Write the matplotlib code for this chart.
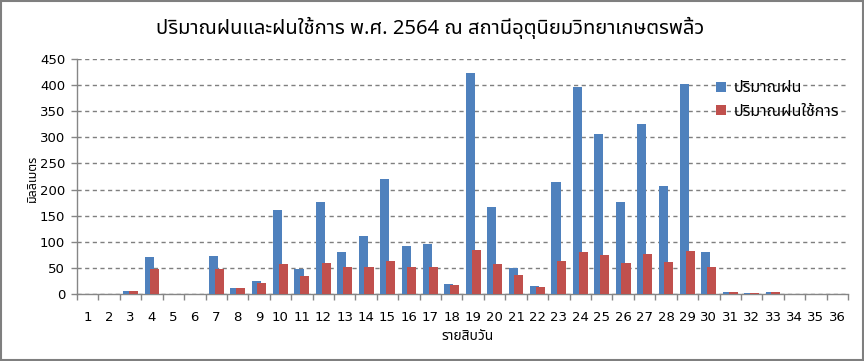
import matplotlib
matplotlib.use("Agg")
import matplotlib.pyplot as plt
import numpy as np
from matplotlib import font_manager as fm
from matplotlib.ft2font import FT2Font
from matplotlib.patches import Rectangle

# ---------------- data ----------------
categories = [str(i) for i in range(1, 37)]
rain_total = [0, 0, 6, 70, 0, 0, 72, 12, 24, 160, 47, 177, 81, 112, 220, 91, 95, 20,
              424, 166, 49, 16, 214, 397, 306, 176, 326, 206, 403, 81, 4.5, 2.5, 4.5, 0, 0, 0]
rain_effective = [0, 0, 6, 47, 0, 0, 47, 12, 22, 58, 35, 60, 51, 52, 64, 51, 52, 18,
                  85, 58, 37, 14, 64, 81, 74, 60, 76, 62, 83, 51, 4.5, 2, 4.5, 0, 0, 0]
series_names = ["ปริมาณฝน", "ปริมาณฝนใช้การ"]
title = "ปริมาณฝนและฝนใช้การ พ.ศ. 2564 ณ สถานีอุตุนิยมวิทยาเกษตรพลิ้ว"
xlabel = "รายสิบวัน"
ylabel = "มิลลิเมตร"
yticks = [0, 50, 100, 150, 200, 250, 300, 350, 400, 450]

# ---------------- font selection ----------------
preferred = ["Tahoma", "Noto Sans Thai", "Noto Sans Thai UI", "Loma", "Garuda",
             "Sarabun", "Kanit", "Prompt", "IBM Plex Sans Thai", "Bai Jamjuree"]
thai_fonts = {}
for f in fm.fontManager.ttflist:
    try:
        cm = FT2Font(f.fname).get_charmap()
        if 0x0E1B in cm and 0x0E23 in cm:
            thai_fonts.setdefault(f.name, True)
    except Exception:
        pass
thai = None
for p in preferred:
    if p in thai_fonts:
        thai = p
        break
if thai is None and thai_fonts:
    thai = sorted(thai_fonts)[0]
fam = ([thai] if thai else []) + ["DejaVu Sans"]
plt.rcParams["font.family"] = fam

# ---------------- figure ----------------
W, H = 864, 361
fig = plt.figure(figsize=(W / 100, H / 100), dpi=100)
ax = fig.add_axes([77 / W, 1 - 294 / H, (848 - 77) / W, (294 - 59) / H])

x = np.arange(len(categories))
bw = 0.425
off = 0.135
c_blue = "#4F81BD"
c_red = "#C0504D"
ax.bar(x - off, rain_total, width=bw, color=c_blue, label=series_names[0], zorder=3)
ax.bar(x + off, rain_effective, width=bw, color=c_red, label=series_names[1], zorder=4)

ax.set_xlim(-0.5, len(categories) - 0.5)
ax.set_ylim(0, 450)
ax.set_yticks(yticks)
ax.set_yticklabels([str(v) for v in yticks], fontsize=9.5, family=["DejaVu Sans"])
ax.yaxis.grid(True, linestyle=(0, (3, 2.5)), color="#7F7F7F", linewidth=1.0, zorder=0)
ax.set_axisbelow(True)

ax.set_xticks(x)
ax.set_xticklabels(categories, fontsize=9.5, family=["DejaVu Sans"])
ax.set_xticks(np.arange(len(categories) + 1) - 0.5, minor=True)
ax.tick_params(axis="x", which="major", length=0, pad=12)
ax.tick_params(axis="x", which="minor", length=4.5, width=1, color="#868686")
ax.tick_params(axis="y", length=4.5, width=1, color="#868686", pad=4)

for s in ["top", "right"]:
    ax.spines[s].set_visible(False)
for s in ["left", "bottom"]:
    ax.spines[s].set_color("#868686")
    ax.spines[s].set_linewidth(1.0)

fig.text(430 / W, 1 - 28 / H, title, ha="center", va="center", fontsize=14.5)
fig.text(468 / W, 1 - 336 / H, xlabel, ha="center", va="center", fontsize=10)
fig.text(32 / W, 1 - 178 / H, ylabel, ha="center", va="center", rotation=90, fontsize=9)

leg = ax.legend(loc="upper left", bbox_to_anchor=((710 - 77) / (848 - 77), (294 - 74) / (294 - 59)),
                frameon=False, fontsize=11.5, handlelength=0.6, handleheight=0.6,
                handletextpad=0.5, labelspacing=0.45, borderaxespad=0)

# figure border
fig.patches.append(Rectangle((0.5 / W, 0.5 / H + 1 / H), 1 - 2 / W, 1 - 2.5 / H,
                             transform=fig.transFigure, fill=False,
                             edgecolor="#7F7F7F", linewidth=1.5))

fig.savefig("out.png", dpi=100)
